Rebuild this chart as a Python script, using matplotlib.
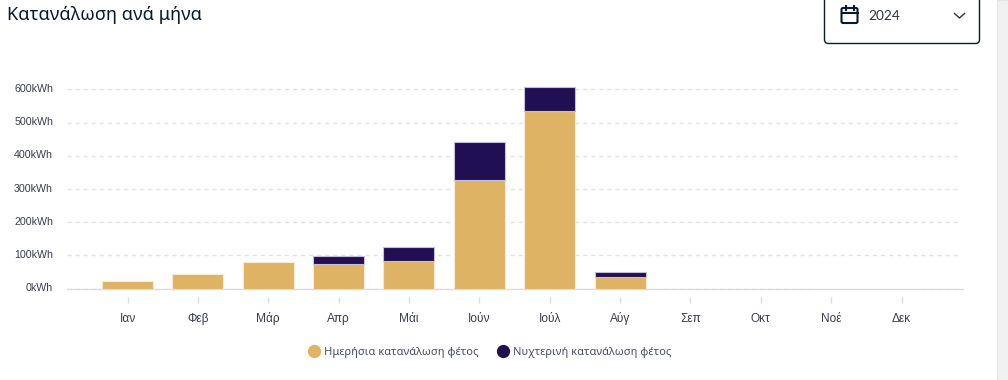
import matplotlib
matplotlib.use('Agg')
import matplotlib.pyplot as plt
from matplotlib.lines import Line2D
from matplotlib.patches import FancyBboxPatch, Rectangle
from matplotlib.transforms import ScaledTranslation

months = ['Ιαν', 'Φεβ', 'Μάρ', 'Απρ', 'Μάι', 'Ιούν', 'Ιούλ', 'Αύγ', 'Σεπ', 'Οκτ', 'Νοέ', 'Δεκ']
day_kwh = [23, 43, 79, 73, 83, 327, 535, 34, 0, 0, 0, 0]
night_kwh = [0, 0, 0, 26, 42, 115, 71, 15, 0, 0, 0, 0]
y_ticks = [0, 100, 200, 300, 400, 500, 600]
y_labels = ['0kWh', '100kWh', '200kWh', '300kWh', '400kWh', '500kWh', '600kWh']
legend_labels = ['Ημερήσια κατανάλωση φέτος', 'Νυχτερινή κατανάλωση φέτος']

W, H = 1008, 380
day_col = '#DEB364'
night_col = '#200F52'
text_col = '#3A3F4B'
ink = '#0B1B2B'

fig = plt.figure(figsize=(W / 100, H / 100), dpi=100)

# pixel overlay for the page furniture (dropdown, scrollbar)
page = fig.add_axes([0, 0, 1, 1], zorder=0)
page.set_xlim(0, W)
page.set_ylim(H, 0)
page.axis('off')

page.add_patch(Rectangle((997, 0), 11, H, fc='#F1F1F1', ec='#E4E4E4', lw=0.8))
page.add_patch(FancyBboxPatch((824.5, -20), 155, 63.5, boxstyle='round,pad=0,rounding_size=4',
                              fc='white', ec=ink, lw=1.0))
# calendar icon
page.add_patch(FancyBboxPatch((841.5, 8), 16, 15, boxstyle='round,pad=0,rounding_size=1.5',
                              fc='none', ec=ink, lw=1.5))
page.plot([841.5, 857.5], [12.5, 12.5], color=ink, lw=1.5)
page.plot([845.5, 845.5], [5.5, 9.5], color=ink, lw=1.5)
page.plot([853.5, 853.5], [5.5, 9.5], color=ink, lw=1.5)
# chevron
page.plot([954.5, 959.5, 964.5], [13.5, 18, 13.5], color='#333333', lw=1.0)

page.text(868, 16.5, '2024', fontsize=9.8, family='Lato', color='#2B3240', va='center', ha='left')
page.text(7, 15, 'Κατανάλωση ανά μήνα', fontsize=13.1, family='Noto Sans', color=ink,
          va='center', ha='left')

# chart axes: 67..963 px wide, y=0 at 288.6 px, 100 kWh = 33.2 px
top_px = 70
ax = fig.add_axes([67 / W, 1 - 288.6 / H, (963 - 67) / W, (288.6 - top_px) / H], zorder=1)
ax.patch.set_alpha(0)
ax.set_ylim(0, (288.6 - top_px) / 0.332)
ax.set_xlim(-0.86, 11.874)

x = list(range(len(months)))
bar_w = 51 / 70.36
for i in x:
    if day_kwh[i] > 0:
        ax.bar(i, day_kwh[i], width=bar_w, color=day_col, edgecolor='#F7EBD5', linewidth=0.8, zorder=3)
    if night_kwh[i] > 0:
        ax.bar(i, night_kwh[i], bottom=day_kwh[i], width=bar_w, color=night_col,
               edgecolor='#C4BED6', linewidth=0.8, zorder=3)

ax.set_yticks(y_ticks)
ax.set_yticklabels(y_labels)
ax.set_xticks(x)
ax.set_xticklabels(months)
ax.hlines(y_ticks, -0.86, 11.82, color='#E2E2E2', lw=1.0, linestyle=(0, (3, 2.8)), zorder=1)
ax.axhline(0, color='#DCDCDC', lw=1.0, zorder=2, clip_on=False)

for s in ['top', 'left', 'right']:
    ax.spines[s].set_visible(False)
ax.spines['bottom'].set_position(('outward', 6))
ax.spines['bottom'].set_visible(False)
ax.tick_params(axis='y', length=0, pad=10, labelsize=7.7, labelcolor=text_col)
ax.tick_params(axis='x', length=4, width=1, color='#DDDDDD', pad=14, labelsize=8.6, labelcolor=text_col)
up = ScaledTranslation(0, 1.5 / 100, fig.dpi_scale_trans)
for lab in ax.get_yticklabels():
    lab.set_transform(lab.get_transform() + up)
for lab in ax.get_xticklabels():
    lab.set_verticalalignment('baseline')
for lab in ax.get_xticklabels() + ax.get_yticklabels():
    lab.set_family('Liberation Sans')

handles = [Line2D([], [], ls='none', marker='o', ms=8.5, mfc=day_col, mec=day_col),
           Line2D([], [], ls='none', marker='o', ms=8.5, mfc=night_col, mec=night_col)]
leg = fig.legend(handles, legend_labels, loc='center', bbox_to_anchor=(487 / W, 1 - 352 / H), ncol=2,
                 frameon=False, handletextpad=-0.1, columnspacing=1.2,
                 prop={'family': 'Noto Sans', 'size': 8})
for t in leg.get_texts():
    t.set_color('#4A5060')

fig.savefig('out.png', dpi=100)
